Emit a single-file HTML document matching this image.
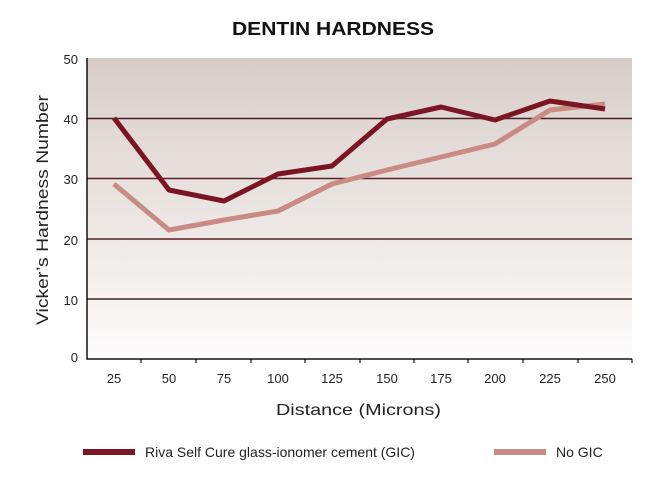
<!DOCTYPE html><html><head><style>body{margin:0;background:#fff}</style></head><body>
<svg width="650" height="478" xmlns="http://www.w3.org/2000/svg" font-family="Liberation Sans, sans-serif">
<defs><linearGradient id="g" x1="0" y1="0" x2="0" y2="1"><stop offset="0" stop-color="#d8cec8"/><stop offset="1" stop-color="#fdfcfc"/></linearGradient></defs>
<text x="232" y="35" font-size="18" font-weight="bold" fill="#111" textLength="202" lengthAdjust="spacingAndGlyphs">DENTIN HARDNESS</text>
<rect x="87" y="58" width="545" height="301" fill="url(#g)"/>
<g stroke-width="1.5">
<line x1="87" y1="118.5" x2="632" y2="118.5" stroke="#4a2025"/>
<line x1="87" y1="178.5" x2="632" y2="178.5" stroke="#5a2026"/>
<line x1="87" y1="239" x2="632" y2="239" stroke="#5a2026"/>
<line x1="87" y1="299" x2="632" y2="299" stroke="#3a2224"/>
</g>
<path d="M87 58V359H632" fill="none" stroke="#111" stroke-width="1.5"/>
<g stroke="#111" stroke-width="1.2">
<line x1="141" y1="359" x2="141" y2="363"/><line x1="196" y1="359" x2="196" y2="363"/><line x1="251" y1="359" x2="251" y2="363"/><line x1="305" y1="359" x2="305" y2="363"/><line x1="360" y1="359" x2="360" y2="363"/><line x1="414" y1="359" x2="414" y2="363"/><line x1="468" y1="359" x2="468" y2="363"/><line x1="523" y1="359" x2="523" y2="363"/><line x1="578" y1="359" x2="578" y2="363"/><line x1="632" y1="359" x2="632" y2="363"/>
</g>
<g font-size="13" fill="#222" text-anchor="end">
<text x="78" y="64">50</text><text x="78" y="124">40</text><text x="78" y="184">30</text><text x="78" y="245">20</text><text x="78" y="305">10</text><text x="78" y="362">0</text>
</g>
<g font-size="13" fill="#222" text-anchor="middle">
<text x="114" y="383">25</text><text x="169" y="383">50</text><text x="224" y="383">75</text><text x="278" y="383">100</text><text x="332" y="383">125</text><text x="387" y="383">150</text><text x="441" y="383">175</text><text x="495" y="383">200</text><text x="550" y="383">225</text><text x="605" y="383">250</text>
</g>
<text x="276" y="415" font-size="16" fill="#222" textLength="165" lengthAdjust="spacingAndGlyphs">Distance (Microns)</text>
<text transform="translate(48,325) rotate(-90)" font-size="17" fill="#222" textLength="230" lengthAdjust="spacingAndGlyphs">Vicker’s Hardness Number</text>
<polyline points="114,184 169,230 224,220 278,211 332,184 387,170 441,157 495,144 550,110 605,104" fill="none" stroke="#c98b84" stroke-width="5" stroke-linejoin="round"/>
<polyline points="114,118 169,190 224,201 278,174 332,166 387,119 441,107 495,120 550,101 605,109" fill="none" stroke="#7c1523" stroke-width="5" stroke-linejoin="round"/>
<line x1="83" y1="452" x2="135" y2="452" stroke="#7c1523" stroke-width="6"/>
<text x="145" y="457" font-size="14" fill="#222">Riva Self Cure glass-ionomer cement (GIC)</text>
<line x1="494" y1="452" x2="546" y2="452" stroke="#c98b84" stroke-width="6"/>
<text x="556" y="457" font-size="14" fill="#222">No GIC</text>
</svg></body></html>
